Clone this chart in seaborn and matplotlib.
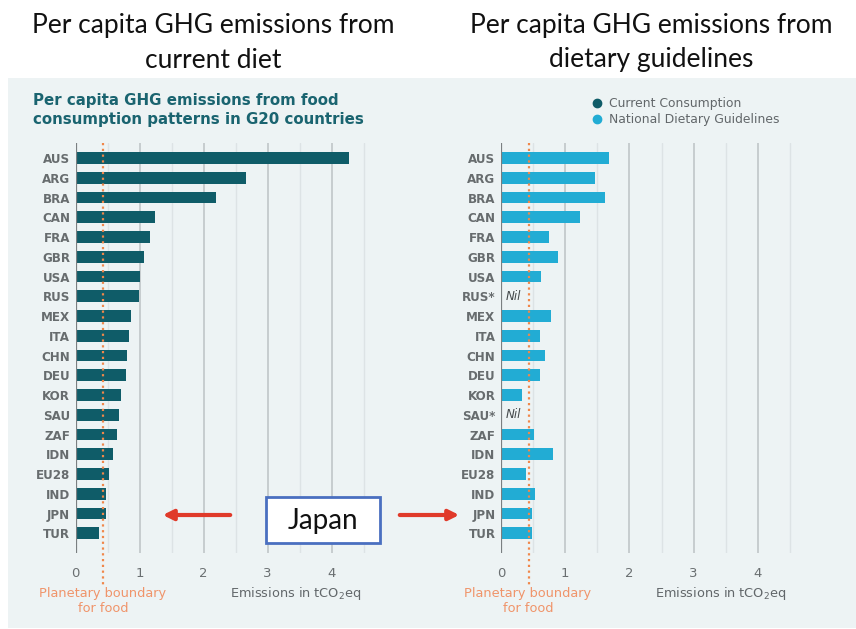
import numpy as np
import pandas as pd
import matplotlib
matplotlib.use("Agg")
import matplotlib.pyplot as plt
import seaborn as sns
from matplotlib.lines import Line2D
from matplotlib.patches import Rectangle, FancyArrowPatch

# ---- data ----
countries = ["AUS", "ARG", "BRA", "CAN", "FRA", "GBR", "USA", "RUS", "MEX", "ITA",
             "CHN", "DEU", "KOR", "SAU", "ZAF", "IDN", "EU28", "IND", "JPN", "TUR"]
labels_right = ["AUS", "ARG", "BRA", "CAN", "FRA", "GBR", "USA", "RUS*", "MEX", "ITA",
                "CHN", "DEU", "KOR", "SAU*", "ZAF", "IDN", "EU28", "IND", "JPN", "TUR"]
current = [4.27, 2.66, 2.19, 1.24, 1.16, 1.06, 1.00, 0.99, 0.86, 0.84,
           0.80, 0.78, 0.71, 0.68, 0.64, 0.59, 0.52, 0.48, 0.47, 0.36]
guidelines = [1.69, 1.46, 1.62, 1.23, 0.74, 0.89, 0.63, np.nan, 0.78, 0.61,
              0.69, 0.60, 0.32, np.nan, 0.51, 0.81, 0.39, 0.53, 0.49, 0.49]
planetary_boundary = 0.43
xticks = [0, 1, 2, 3, 4]

# ---- style ----
BG = "#edf3f4"
DARK = "#0f5c68"
LIGHT = "#22acd4"
ORANGE = "#f0874a"
ORANGE_T = "#f0946a"
GREY_T = "#62676a"
INFO = ["DejaVu Sans"]
SLIDE = ["Lato", "DejaVu Sans"]

sns.set_theme(style="white")
plt.rcParams["font.family"] = INFO

W, H = 856, 629
fig = plt.figure(figsize=(W / 100, H / 100), dpi=100)
fig.patch.set_facecolor("white")

def fx(px):
    return px / W

def fy(py):
    return 1 - py / H

# background panel
fig.add_artist(Rectangle((fx(8), fy(628)), fx(856) - fx(8), fy(78) - fy(628),
                         transform=fig.transFigure, facecolor=BG, edgecolor="none", zorder=0))

# top titles (slide titles)
for cx, l1, l2 in [(213, "Per capita GHG emissions from", "current diet"),
                   (651, "Per capita GHG emissions from", "dietary guidelines")]:
    fig.text(fx(cx), fy(25), l1, ha="center", va="center", fontsize=19, family=SLIDE, color="#111111")
    fig.text(fx(cx), fy(60), l2, ha="center", va="center", fontsize=19, family=SLIDE, color="#111111")

# inner infographic title
fig.text(fx(33), fy(101), "Per capita GHG emissions from food", ha="left", va="center",
         fontsize=10.8, fontweight="bold", color="#1a6470", family=INFO)
fig.text(fx(33), fy(119), "consumption patterns in G20 countries", ha="left", va="center",
         fontsize=10.8, fontweight="bold", color="#1a6470", family=INFO)

# legend
for py, col, txt in [(103, DARK, "Current Consumption"), (119, LIGHT, "National Dietary Guidelines")]:
    fig.add_artist(Line2D([fx(597)], [fy(py)], marker="o", markersize=6, color=col,
                          linestyle="", transform=fig.transFigure))
    fig.text(fx(609), fy(py), txt, ha="left", va="center", fontsize=8.9, color=GREY_T, family=INFO)

ax_top, ax_bot = 143, 553
xmax = 4.6

def make_ax(left_px, scale, values, ylabels, color, nil=False):
    width_px = xmax * scale
    ax = fig.add_axes([fx(left_px), fy(ax_bot), width_px / W, (ax_bot - ax_top) / H])
    ax.set_facecolor("none")
    df = pd.DataFrame({"country": countries, "value": values})
    sns.barplot(data=df, x="value", y="country", orient="h", color=color, width=0.6,
                saturation=1, linewidth=0, ax=ax, zorder=3)
    ax.set_xlim(0, xmax)
    ax.set_ylim(20.0, -0.76)
    for s in ax.spines.values():
        s.set_visible(False)
    for g in np.arange(0.5, 4.51, 0.5):
        major = float(g).is_integer()
        ax.axvline(g, color="#c4cacc" if major else "#dde3e5", lw=1.3 if major else 1.0, zorder=1)
    ax.axvline(0, color="#7a7f81", lw=1.6, zorder=4)
    ax.set_xticks(xticks)
    ax.set_xticklabels([str(t) for t in xticks], family=INFO)
    ax.tick_params(axis="x", length=0, pad=10, labelsize=9.5, labelcolor="#6a6f71")
    ax.set_yticks(range(len(countries)))
    ax.set_yticklabels(ylabels, family=INFO, fontweight="bold")
    ax.tick_params(axis="y", length=0, pad=4, labelsize=8.6, labelcolor="#676c6e")
    ax.set_xlabel("")
    ax.set_ylabel("")
    ax.plot([planetary_boundary, planetary_boundary], [-0.76, 21.6], color=ORANGE,
            lw=1.6, linestyle=(0, (1, 1.6)), clip_on=False, zorder=5)
    if nil:
        for i, v in enumerate(values):
            if np.isnan(v):
                ax.text(0.08, i, "Nil", ha="left", va="center", fontsize=8.6,
                        style="italic", color="#44494b", zorder=6, family=INFO)
    return ax

ax1 = make_ax(75.7, 64.0, current, countries, DARK)
ax2 = make_ax(501.0, 64.2, guidelines, labels_right, LIGHT, nil=True)

# bottom annotations
for cx_pb, cx_em in [(103, 296), (528, 721)]:
    fig.text(fx(cx_pb), fy(594), "Planetary boundary", ha="center", va="center",
             fontsize=9.3, color=ORANGE_T, family=INFO)
    fig.text(fx(cx_pb), fy(609), "for food", ha="center", va="center",
             fontsize=9.3, color=ORANGE_T, family=INFO)
    fig.text(fx(cx_em), fy(594), "Emissions in tCO$_2$eq", ha="center", va="center",
             fontsize=9.3, color=GREY_T, family=INFO)

# Japan callout box
fig.add_artist(Rectangle((fx(266), fy(543)), fx(380) - fx(266), fy(497) - fy(543),
                         transform=fig.transFigure, facecolor="white",
                         edgecolor="#4a6fc0", lw=2, zorder=10))
fig.text(fx(323), fy(521), "Japan", ha="center", va="center", fontsize=20,
         family=SLIDE, color="#111111", zorder=11)
for (x0, x1) in [(233, 160), (397, 462)]:
    fig.add_artist(FancyArrowPatch((fx(x0), fy(515)), (fx(x1), fy(515)),
                                   transform=fig.transFigure, arrowstyle="-|>",
                                   mutation_scale=15, color="#e03a2a", lw=3, zorder=10))

fig.savefig("out.png", dpi=100, facecolor=fig.get_facecolor())
